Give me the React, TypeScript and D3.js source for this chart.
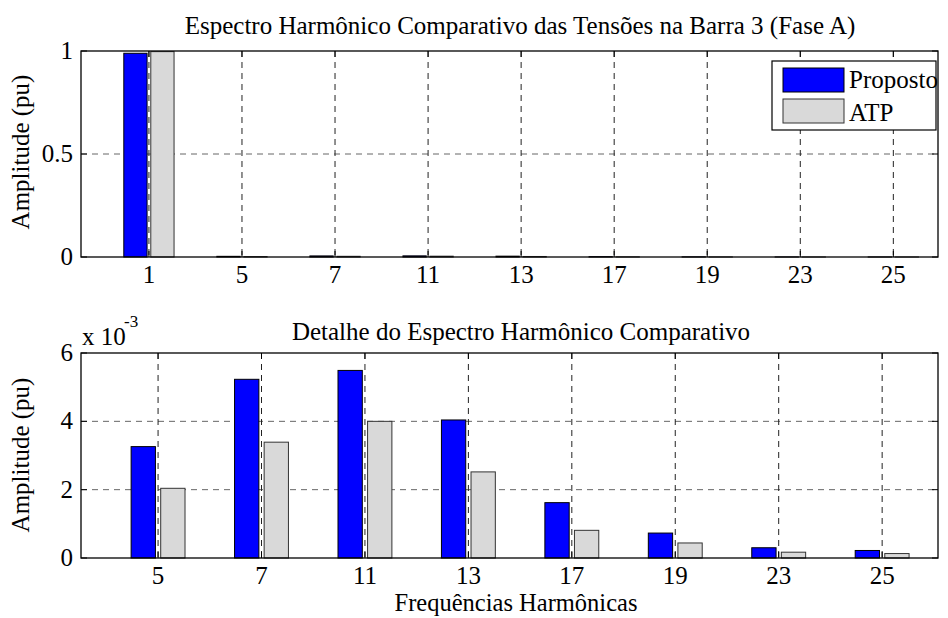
import React from "react";
import * as d3 from "d3";

// harmonic orders shown on each panel
const fullHarmonics = [1, 5, 7, 11, 13, 17, 19, 23, 25];
const detailHarmonics = [5, 7, 11, 13, 17, 19, 23, 25];

// amplitudes (pu)
const fundamentalProposto = 0.989;
const fundamentalAtp = 0.997;
// detail values in units of 1e-3 pu
const propostoDetail = [3.26, 5.23, 5.49, 4.04, 1.62, 0.73, 0.3, 0.22];
const atpDetail = [2.04, 3.39, 4.0, 2.52, 0.81, 0.44, 0.17, 0.13];

const topYTicks = [0, 0.5, 1];
const bottomYTicks = [0, 2, 4, 6];

const BLUE = "#0000ff";
const GRAY = "#d9d9d9";
const FONT = '"Liberation Serif", "Times New Roman", Tinos, "DejaVu Serif", serif';
const FS = 25;

type PanelProps = {
  top: number;
  bottom: number;
  xDomain: [number, number];
  yDomain: [number, number];
  labels: number[];
  proposto: number[];
  atp: number[];
  yTicks: number[];
  barW: number;
  offset: number;
};

const LEFT = 81;
const RIGHT = 938;

const Panel = (p: PanelProps) => {
  const x = d3.scaleLinear().domain(p.xDomain).range([LEFT, RIGHT]);
  const y = d3.scaleLinear().domain(p.yDomain).range([p.bottom, p.top]);
  const bw = x(p.barW) - x(0);
  return (
    <g>
      {/* grid */}
      {p.yTicks
        .filter((t) => t !== p.yDomain[0] && t !== p.yDomain[1])
        .map((t) => (
          <line key={"gy" + t} x1={LEFT} x2={RIGHT} y1={y(t)} y2={y(t)}
            stroke="#666" strokeWidth={1} strokeDasharray="6,5" />
        ))}
      {p.labels.map((_, i) => (
        <line key={"gx" + i} x1={x(i + 1)} x2={x(i + 1)} y1={p.top} y2={p.bottom}
          stroke="#222" strokeWidth={1} strokeDasharray="6,5" />
      ))}
      {/* bars */}
      {p.proposto.map((v, i) => (
        <rect key={"p" + i} x={x(i + 1 - p.offset) - bw / 2} y={y(v)} width={bw}
          height={y(0) - y(v)} fill={BLUE} stroke="#000" strokeWidth={1} />
      ))}
      {p.atp.map((v, i) => (
        <rect key={"a" + i} x={x(i + 1 + p.offset) - bw / 2} y={y(v)} width={bw}
          height={y(0) - y(v)} fill={GRAY} stroke="#333" strokeWidth={1} />
      ))}
      {/* box */}
      <rect x={LEFT} y={p.top} width={RIGHT - LEFT} height={p.bottom - p.top}
        fill="none" stroke="#000" strokeWidth={1.3} />
      {/* ticks */}
      {p.yTicks.map((t) => (
        <g key={"ty" + t}>
          <line x1={LEFT} x2={LEFT + 6} y1={y(t)} y2={y(t)} stroke="#000" />
          <line x1={RIGHT} x2={RIGHT - 6} y1={y(t)} y2={y(t)} stroke="#000" />
          <text x={LEFT - 8} y={y(t) + 8} textAnchor="end" fontSize={FS}>
            {String(t)}
          </text>
        </g>
      ))}
      {p.labels.map((l, i) => (
        <g key={"tx" + i}>
          <line x1={x(i + 1)} x2={x(i + 1)} y1={p.bottom} y2={p.bottom - 6} stroke="#000" />
          <line x1={x(i + 1)} x2={x(i + 1)} y1={p.top} y2={p.top + 6} stroke="#000" />
          <text x={x(i + 1)} y={p.bottom + 26} textAnchor="middle" fontSize={FS}>
            {l}
          </text>
        </g>
      ))}
    </g>
  );
};

const App = () => {
  const topProposto = [fundamentalProposto, ...propostoDetail.map((v) => v / 1000)];
  const topAtp = [fundamentalAtp, ...atpDetail.map((v) => v / 1000)];
  return (
    <svg width={948} height={618}
      style={{ position: "absolute", left: 0, top: 0, background: "#fff", fontFamily: FONT }}>
      <rect width={948} height={618} fill="#fff" />
      <Panel top={51} bottom={257} xDomain={[0.27, 9.48]} yDomain={[0, 1]}
        labels={fullHarmonics} proposto={topProposto} atp={topAtp}
        yTicks={topYTicks} barW={0.25} offset={0.145} />
      <Panel top={353} bottom={558} xDomain={[0.255, 8.54]} yDomain={[0, 6]}
        labels={detailHarmonics} proposto={propostoDetail} atp={atpDetail}
        yTicks={bottomYTicks} barW={0.235} offset={0.143} />

      <text x={520} y={34} textAnchor="middle" fontSize={FS}>
        Espectro Harmônico Comparativo das Tensões na Barra 3 (Fase A)
      </text>
      <text x={521} y={340} textAnchor="middle" fontSize={FS}>
        Detalhe do Espectro Harmônico Comparativo
      </text>
      <text x={516} y={611} textAnchor="middle" fontSize={24.5}>
        Frequências Harmônicas
      </text>
      <text transform="translate(29,152) rotate(-90)" textAnchor="middle" fontSize={FS}>
        Amplitude (pu)
      </text>
      <text transform="translate(29,455) rotate(-90)" textAnchor="middle" fontSize={FS}>
        Amplitude (pu)
      </text>
      <text x={82} y={345} fontSize={FS}>x 10</text>
      <text x={124} y={327} fontSize={17}>-3</text>

      {/* legend */}
      <g>
        <rect x={772} y={61} width={164} height={69} fill="#fff" stroke="#000" strokeWidth={1.2} />
        <rect x={783} y={68} width={61} height={24} fill={BLUE} stroke="#000" />
        <rect x={783} y={99} width={61} height={24} fill={GRAY} stroke="#333" />
        <text x={849} y={88} fontSize={FS}>Proposto</text>
        <text x={849} y={121} fontSize={FS}>ATP</text>
      </g>
    </svg>
  );
};

export default App;
